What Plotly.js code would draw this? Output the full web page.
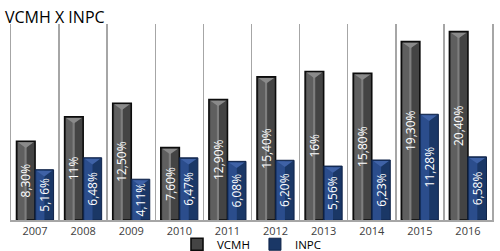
<!DOCTYPE html>
<html>
<head>
<meta charset="utf-8">
<script src="https://cdn.plot.ly/plotly-3.0.1.min.js"></script>
<style>html,body{margin:0;padding:0;background:#fff;}#chart{width:500px;height:251px;}</style>
</head>
<body>
<div id="chart"></div>
<script>
// ---- data ----
const years = ['2007','2008','2009','2010','2011','2012','2013','2014','2015','2016'];
const vcmh = [8.30, 11.00, 12.50, 7.60, 12.90, 15.40, 16.00, 15.80, 19.30, 20.40];
const inpc = [5.16, 6.48, 4.11, 6.47, 6.08, 6.20, 5.56, 6.23, 11.28, 6.58];
const vcmhLabels = ['8,30%','11%','12,50%','7,60%','12,90%','15,40%','16%','15,80%','19,30%','20,40%'];
const inpcLabels = ['5,16%','6,48%','4,11%','6,47%','6,08%','6,20%','5,56%','6,23%','11,28%','6,58%'];

// ---- style ----
const BASE = -0.39;      // visual floor of the bars (axis starts slightly below 0)
const W = 0.385;         // width of each bar (category units)
const TRI = 0.62;        // bevel triangle depth (value units)
const idx = years.map((_, i) => i);

function bar(vals, offset, width, color, lineColor, lineW, extra) {
  return Object.assign({
    type: 'bar', x: idx, y: vals.map(v => v - BASE), base: BASE,
    offset: offset, width: width,
    marker: {color: color, line: {color: lineColor, width: lineW}},
    hoverinfo: 'skip', showlegend: false
  }, extra || {});
}
function tri(vals, offset, color) {
  const xs = [], ys = [];
  const inset = 0.03;
  vals.forEach((v, i) => {
    const l = i + offset + inset, r = i + offset + W - inset, c = i + offset + W / 2;
    const top = v - 0.12;
    xs.push(l, r, c, l, null);
    ys.push(top, top, top - TRI, top, null);
  });
  return {type: 'scatter', mode: 'lines', x: xs, y: ys, fill: 'toself', fillcolor: color,
          line: {width: 0, color: color}, hoverinfo: 'skip', showlegend: false};
}

const vOff = -W, iOff = 0;
const data = [
  // VCMH
  bar(vcmh, vOff, W, '#444444', '#0c0c0c', 1.6, {name: 'VCMH', showlegend: true}),
  bar(vcmh.map(v => v - 0.15), vOff + 0.03, 0.15, '#5f5f5f', '#5f5f5f', 0),
  bar(vcmh.map(v => v - 0.15), vOff + 0.165, 0.045, '#7e7e7e', '#7e7e7e', 0),
  // INPC
  bar(inpc, iOff, W, '#1a3766', '#0e2248', 1, {name: 'INPC', showlegend: true}),
  bar(inpc.map(v => v - 0.12), iOff + 0.025, 0.17, '#2b4d8c', '#2b4d8c', 0),
  // labels
  bar(vcmh, vOff, W, 'rgba(0,0,0,0)', 'rgba(0,0,0,0)', 0,
      {text: vcmhLabels, textposition: 'inside', insidetextanchor: 'middle', textangle: -90,
       insidetextfont: {color: '#ffffff', size: 12, family: 'Open Sans'}, constraintext: 'none'}),
  bar(inpc, iOff, W, 'rgba(0,0,0,0)', 'rgba(0,0,0,0)', 0,
      {text: inpcLabels, textposition: 'inside', insidetextanchor: 'middle', textangle: -90,
       insidetextfont: {color: '#ffffff', size: 12, family: 'Open Sans'}, constraintext: 'none'}),
  tri(vcmh, vOff, '#8a8a8a'),
  tri(inpc, iOff, '#3f62a6')
];

const layout = {
  width: 500, height: 251,
  margin: {l: 11, r: 8, t: 24, b: 31},
  paper_bgcolor: '#ffffff', plot_bgcolor: '#ffffff',
  barmode: 'overlay',
  font: {family: 'Open Sans', color: '#404040'},
  title: {text: 'VCMH X INPC', x: 5 / 500, xanchor: 'left', xref: 'container',
          y: 1 - 17 / 251, yanchor: 'middle', yref: 'container',
          font: {family: 'Open Sans', size: 16, color: '#000000'}},
  xaxis: {
    range: [-0.5, 9.5], tickmode: 'array', tickvals: idx, ticktext: years,
    showgrid: false, zeroline: false, ticks: '', fixedrange: true,
    showline: true, linecolor: '#a6a6a6', linewidth: 1.5,
    tickfont: {size: 11, color: '#404040', family: 'Open Sans'},
    minor: {tickmode: 'linear', tick0: 0.5, dtick: 1, showgrid: true, gridcolor: '#a6a6a6', gridwidth: 1.5, ticks: ''}
  },
  yaxis: {
    range: [BASE, 21.24], showticklabels: false, showgrid: false, zeroline: false, ticks: '',
    showline: true, mirror: true, linecolor: '#a6a6a6', linewidth: 1.5, fixedrange: true
  },
  showlegend: true,
  legend: {orientation: 'h', x: 0.5, xanchor: 'center', yref: 'container', y: 0.027, yanchor: 'middle',
           font: {size: 11.5, color: '#000000', family: 'Open Sans'}, itemwidth: 30, tracegroupgap: 0,
           bgcolor: 'rgba(0,0,0,0)'}
};

Plotly.newPlot('chart', data, layout, {displayModeBar: false, staticPlot: true});
</script>
</body>
</html>
